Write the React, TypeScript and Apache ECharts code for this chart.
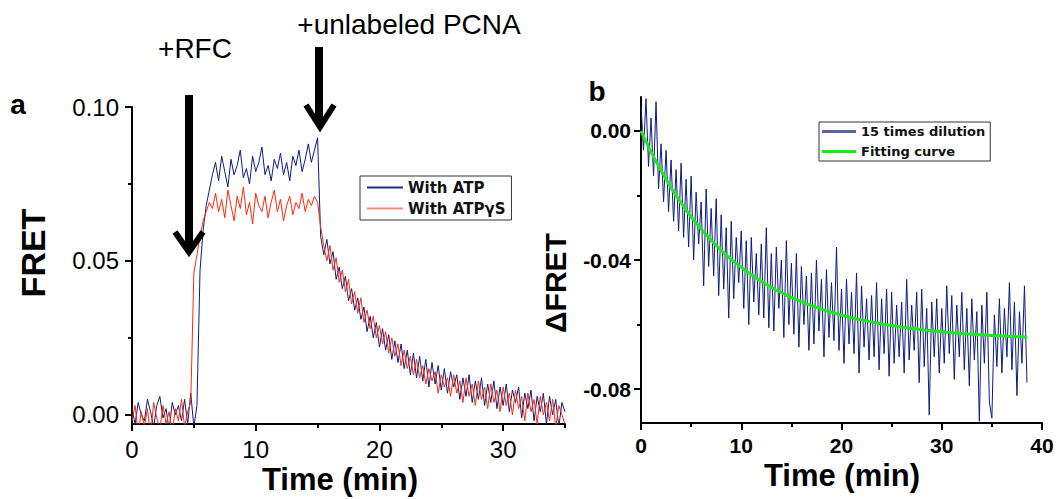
import React, { useEffect, useRef } from "react";
import * as echarts from "echarts";

// ---------- Panel a : FRET traces (time step 0.25 min, from 0 to 35 min)
const A_STEP = 0.25;
const ATP = [
  0.002, -0.003, 0.004, 0.000, -0.002, 0.005, 0.001, -0.004, 0.003, 0.006, -0.001, 0.002, -0.005, 0.004, 0.000, 0.003, -0.002, 0.005, -0.003, 0.007, -0.004,
  0.003, 0.047, 0.060, 0.068, 0.073, 0.078,
  0.082, 0.076, 0.084, 0.079, 0.074, 0.083, 0.078, 0.081, 0.086, 0.077, 0.080, 0.075, 0.084, 0.079, 0.082, 0.087, 0.078, 0.081, 0.076, 0.083, 0.080, 0.085, 0.078, 0.082, 0.076, 0.084, 0.081, 0.086, 0.079, 0.083, 0.088, 0.082, 0.086, 0.090,
  0.058, 0.052, 0.057, 0.049, 0.053, 0.044, 0.048, 0.041, 0.045, 0.037,
  0.041, 0.034, 0.038, 0.031, 0.035, 0.027, 0.032, 0.025, 0.030, 0.022,
  0.028, 0.021, 0.026, 0.018, 0.024, 0.017, 0.023, 0.015, 0.021, 0.013,
  0.020, 0.012, 0.019, 0.011, 0.018, 0.009, 0.017, 0.010, 0.016, 0.008,
  0.015, 0.007, 0.014, 0.009, 0.013, 0.005, 0.012, 0.006, 0.013, 0.004,
  0.011, 0.005, 0.012, 0.003, 0.010, 0.004, 0.011, 0.002, 0.009, 0.003,
  0.010, 0.001, 0.008, 0.004, 0.009, -0.001, 0.007, 0.002, 0.008, -0.002,
  0.006, 0.001, 0.007, -0.003, 0.006, 0.000, 0.005, -0.004, 0.004, 0.001,
];
const ATPGS = [
  -0.002, 0.003, -0.006, 0.001, -0.004, 0.002, -0.007, 0.004, -0.001, -0.005, 0.003, -0.003, 0.001, -0.006, 0.002, -0.002, 0.005, -0.004, 0.001, 0.004,
  0.046, 0.052, 0.058, 0.063, 0.066, 0.069, 0.067,
  0.072, 0.066, 0.070, 0.064, 0.073, 0.068, 0.063, 0.071, 0.067, 0.074, 0.065, 0.069, 0.062, 0.072, 0.068, 0.066, 0.071, 0.064, 0.069, 0.073, 0.066, 0.070, 0.063, 0.068, 0.071, 0.065, 0.069, 0.067, 0.072, 0.066, 0.070, 0.068, 0.071, 0.069,
  0.061, 0.055, 0.050, 0.055, 0.047, 0.051, 0.043, 0.047, 0.040, 0.044,
  0.036, 0.040, 0.033, 0.038, 0.030, 0.034, 0.028, 0.032, 0.025, 0.029,
  0.023, 0.027, 0.020, 0.025, 0.019, 0.023, 0.016, 0.021, 0.015, 0.019,
  0.013, 0.018, 0.012, 0.016, 0.010, 0.015, 0.011, 0.014, 0.007, 0.013,
  0.009, 0.012, 0.006, 0.013, 0.007, 0.011, 0.004, 0.012, 0.006, 0.010,
  0.003, 0.011, 0.005, 0.009, 0.002, 0.010, 0.004, 0.008, 0.001, 0.009,
  0.003, 0.007, 0.000, 0.008, 0.002, 0.006, -0.002, 0.007, 0.001, 0.005,
  -0.003, 0.006, 0.000, 0.004, -0.002, 0.005, -0.004, 0.003, 0.000, -0.003,
];

// ---------- Panel b : ΔFRET after dilution (time step 0.25 min, 0 to 38.5 min)
const B_STEP = 0.25;
const DILUTION = [
  0.008, -0.006, 0.010, -0.011, 0.004, -0.014, 0.009, -0.018,
  -0.004, -0.022, -0.006, -0.025, -0.009, -0.028, -0.012, -0.031,
  -0.010, -0.033, -0.015, -0.036, -0.014, -0.040, -0.019, -0.035,
  -0.022, -0.048, -0.018, -0.042, -0.024, -0.045, -0.021, -0.051,
  -0.026, -0.049, -0.030, -0.058, -0.028, -0.052, -0.033, -0.047,
  -0.031, -0.055, -0.034, -0.060, -0.033, -0.053, -0.038, -0.057,
  -0.035, -0.058, -0.030, -0.061, -0.038, -0.062, -0.036, -0.055,
  -0.040, -0.064, -0.034, -0.060, -0.041, -0.063, -0.038, -0.067,
  -0.042, -0.060, -0.045, -0.068, -0.044, -0.066, -0.040, -0.062,
  -0.046, -0.070, -0.043, -0.064, -0.047, -0.065, -0.036, -0.068,
  -0.049, -0.072, -0.046, -0.066, -0.050, -0.069, -0.044, -0.075,
  -0.048, -0.067, -0.052, -0.071, -0.051, -0.070, -0.047, -0.074,
  -0.052, -0.069, -0.049, -0.076, -0.050, -0.072, -0.054, -0.070,
  -0.053, -0.075, -0.046, -0.071, -0.054, -0.068, -0.050, -0.078,
  -0.049, -0.073, -0.055, -0.088, -0.053, -0.070, -0.052, -0.075,
  -0.055, -0.072, -0.048, -0.069, -0.051, -0.077, -0.054, -0.070,
  -0.050, -0.074, -0.055, -0.079, -0.052, -0.071, -0.056, -0.090,
  -0.054, -0.072, -0.050, -0.084, -0.089, -0.057, -0.073, -0.052,
  -0.075, -0.055, -0.070, -0.047, -0.074, -0.053, -0.082, -0.056,
  -0.072, -0.048, -0.078,
];
const FIT_TIME = [0, 1, 2, 3, 4, 5, 6, 7, 8, 9, 10, 11, 12, 13, 14, 15, 16, 17, 18, 19, 20, 21, 22, 23, 24, 25, 26, 27, 28, 29, 30, 31, 32, 33, 34, 35, 36, 37, 38, 38.5];
const FIT = [
  0, -0.0065, -0.0123, -0.0176, -0.0223, -0.0266, -0.0304, -0.0339, -0.0370, -0.0398,
  -0.0423, -0.0446, -0.0466, -0.0485, -0.0501, -0.0516, -0.0529, -0.0541, -0.0552, -0.0562,
  -0.0571, -0.0579, -0.0586, -0.0592, -0.0598, -0.0603, -0.0608, -0.0612, -0.0616, -0.0619,
  -0.0622, -0.0625, -0.0628, -0.0630, -0.0632, -0.0634, -0.0635, -0.0637, -0.0638, -0.0639,
];

// ---------- ticks
const A_X_MAJOR = [0, 10, 20, 30];
const A_X_MINOR = [5, 15, 25, 35];
const A_Y_MAJOR = [0, 0.05, 0.1];
const A_Y_MINOR = [0.025, 0.075];
const B_X_MAJOR = [0, 10, 20, 30, 40];
const B_X_MINOR = [5, 15, 25, 35];
const B_Y_MAJOR = [0, -0.04, -0.08];
const B_Y_MINOR = [-0.02, -0.06];

const FONT = "'Liberation Sans', Arial, sans-serif";

function axis(
  gridIndex: number,
  min: number,
  max: number,
  major: number[],
  minor: number[],
  isMinor: boolean,
  label: any,
  fmt: (v: number) => string,
  position: string
) {
  const values = isMinor ? minor : major;
  return {
    type: "value",
    gridIndex,
    min,
    max,
    position,
    axisLine: { show: !isMinor, onZero: false, lineStyle: { color: "#000", width: 2 } },
    axisTick: {
      show: true,
      inside: false,
      customValues: values,
      length: isMinor ? 4 : 7,
      lineStyle: { color: "#000", width: 2 },
    },
    axisLabel: isMinor
      ? { show: false }
      : { show: true, customValues: major, formatter: fmt, color: "#000", fontFamily: FONT, ...label },
    splitLine: { show: false },
    minorTick: { show: false },
  };
}

export default function App() {
  const ref = useRef<HTMLDivElement>(null);
  useEffect(() => {
    if (!ref.current) return;
    const chart = echarts.init(ref.current, null, { renderer: "svg" });
    const f2 = (v: number) => v.toFixed(2);
    const f0 = (v: number) => String(v);
    const aLab = { fontSize: 24, fontWeight: "normal" };
    const bLab = { fontSize: 21, fontWeight: "bold" };

    const txt = (text: string, x: number, y: number, size: number, weight: string, rotation = 0) => ({
      type: "text",
      x,
      y,
      rotation,
      z: 100,
      style: {
        text,
        fontSize: size,
        fontWeight: weight,
        fontFamily: FONT,
        fill: "#000",
        textAlign: "center",
        textVerticalAlign: "middle",
        align: "center",
        verticalAlign: "middle",
      },
    });

    chart.setOption({
      animation: false,
      backgroundColor: "#fff",
      grid: [
        { left: 132, top: 107, width: 433, height: 317 },
        { left: 641, top: 97, width: 401, height: 326 },
      ],
      xAxis: [
        axis(0, 0, 35, A_X_MAJOR, A_X_MINOR, false, { ...aLab, margin: 13 }, f0, "bottom"),
        axis(0, 0, 35, A_X_MAJOR, A_X_MINOR, true, {}, f0, "bottom"),
        axis(1, 0, 40, B_X_MAJOR, B_X_MINOR, false, { ...bLab, margin: 12 }, f0, "bottom"),
        axis(1, 0, 40, B_X_MAJOR, B_X_MINOR, true, {}, f0, "bottom"),
      ],
      yAxis: [
        axis(0, -0.003, 0.1, A_Y_MAJOR, A_Y_MINOR, false, { ...aLab, margin: 13 }, f2, "left"),
        axis(0, -0.003, 0.1, A_Y_MAJOR, A_Y_MINOR, true, {}, f2, "left"),
        axis(1, -0.0905, 0.0105, B_Y_MAJOR, B_Y_MINOR, false, { ...bLab, margin: 10 }, f2, "left"),
        axis(1, -0.0905, 0.0105, B_Y_MAJOR, B_Y_MINOR, true, {}, f2, "left"),
      ],
      legend: [
        {
          left: 360,
          top: 176,
          orient: "vertical",
          selectedMode: false,
          data: [
            { name: "With ATP", icon: "rect", itemStyle: { color: "#1a2a85" } },
            { name: "With ATPγS", icon: "rect", itemStyle: { color: "#ff8c7a" } },
          ],
          itemWidth: 36,
          itemHeight: 2,
          itemGap: 6,
          padding: [4, 6, 4, 7],
          borderColor: "#333",
          borderWidth: 1,
          textStyle: { fontFamily: "'DejaVu Sans', sans-serif", fontWeight: "bold", fontSize: 15, color: "#111", lineHeight: 15 },
        },
        {
          left: 819,
          top: 122,
          orient: "vertical",
          selectedMode: false,
          data: [
            { name: "15 times dilution", icon: "rect", itemStyle: { color: "#5a64a0" } },
            { name: "Fitting curve", icon: "rect", itemStyle: { color: "#11ee11" } },
          ],
          itemWidth: 34,
          itemHeight: 3,
          itemGap: 7,
          padding: [3, 5, 3, 3],
          borderColor: "#333",
          borderWidth: 1,
          textStyle: { fontFamily: "'DejaVu Sans', sans-serif", fontWeight: "bold", fontSize: 13, color: "#111", lineHeight: 13 },
        },
      ],
      series: [
        {
          type: "line",
          name: "With ATP",
          xAxisIndex: 0,
          yAxisIndex: 0,
          data: ATP.map((v, i) => [i * A_STEP, v]),
          symbol: "none",
          lineStyle: { color: "#0c1c80", width: 1 },
          itemStyle: { color: "#0c1c80" },
          z: 2,
        },
        {
          type: "line",
          name: "With ATPγS",
          xAxisIndex: 0,
          yAxisIndex: 0,
          data: ATPGS.map((v, i) => [i * A_STEP, v]),
          symbol: "none",
          lineStyle: { color: "#ff2a0a", width: 1 },
          itemStyle: { color: "#ff2a0a" },
          z: 3,
        },
        {
          type: "line",
          name: "15 times dilution",
          xAxisIndex: 2,
          yAxisIndex: 2,
          data: DILUTION.map((v, i) => [i * B_STEP, v]),
          symbol: "none",
          lineStyle: { color: "#0c1c80", width: 1 },
          itemStyle: { color: "#0c1c80" },
          z: 2,
        },
        {
          type: "line",
          name: "Fitting curve",
          xAxisIndex: 2,
          yAxisIndex: 2,
          data: FIT.map((v, i) => [FIT_TIME[i], v]),
          symbol: "none",
          smooth: 0.3,
          lineStyle: { color: "#1ee81e", width: 3 },
          itemStyle: { color: "#1ee81e" },
          z: 3,
        },
      ],
      graphic: [
        txt("a", 18, 104, 28, "bold"),
        txt("b", 597, 91, 28, "bold"),
        txt("FRET", 33, 253, 34, "bold", Math.PI / 2),
        txt("ΔFRET", 555, 283, 30, "bold", Math.PI / 2),
        txt("Time (min)", 340, 479, 31, "bold"),
        txt("Time (min)", 842, 475, 31, "bold"),
        txt("+RFC", 195, 48, 28, "normal"),
        txt("+unlabeled PCNA", 409, 24, 28, "normal"),
        {
          type: "line",
          z: 100,
          shape: { x1: 189, y1: 95, x2: 189, y2: 250 },
          style: { stroke: "#000", lineWidth: 8 },
        },
        {
          type: "polyline",
          z: 100,
          shape: { points: [[175, 232], [189, 252], [203, 232]] },
          style: { stroke: "#000", lineWidth: 6, lineJoin: "miter", fill: null },
        },
        {
          type: "line",
          z: 100,
          shape: { x1: 319, y1: 47, x2: 319, y2: 124 },
          style: { stroke: "#000", lineWidth: 8 },
        },
        {
          type: "polyline",
          z: 100,
          shape: { points: [[306, 105], [320, 127], [334, 105]] },
          style: { stroke: "#000", lineWidth: 6, lineJoin: "miter", fill: null },
        },
      ],
    });
    return () => chart.dispose();
  }, []);
  return (
    <div
      ref={ref}
      style={{ position: "absolute", left: 0, top: 0, width: 1057, height: 499, background: "#fff" }}
    />
  );
}
